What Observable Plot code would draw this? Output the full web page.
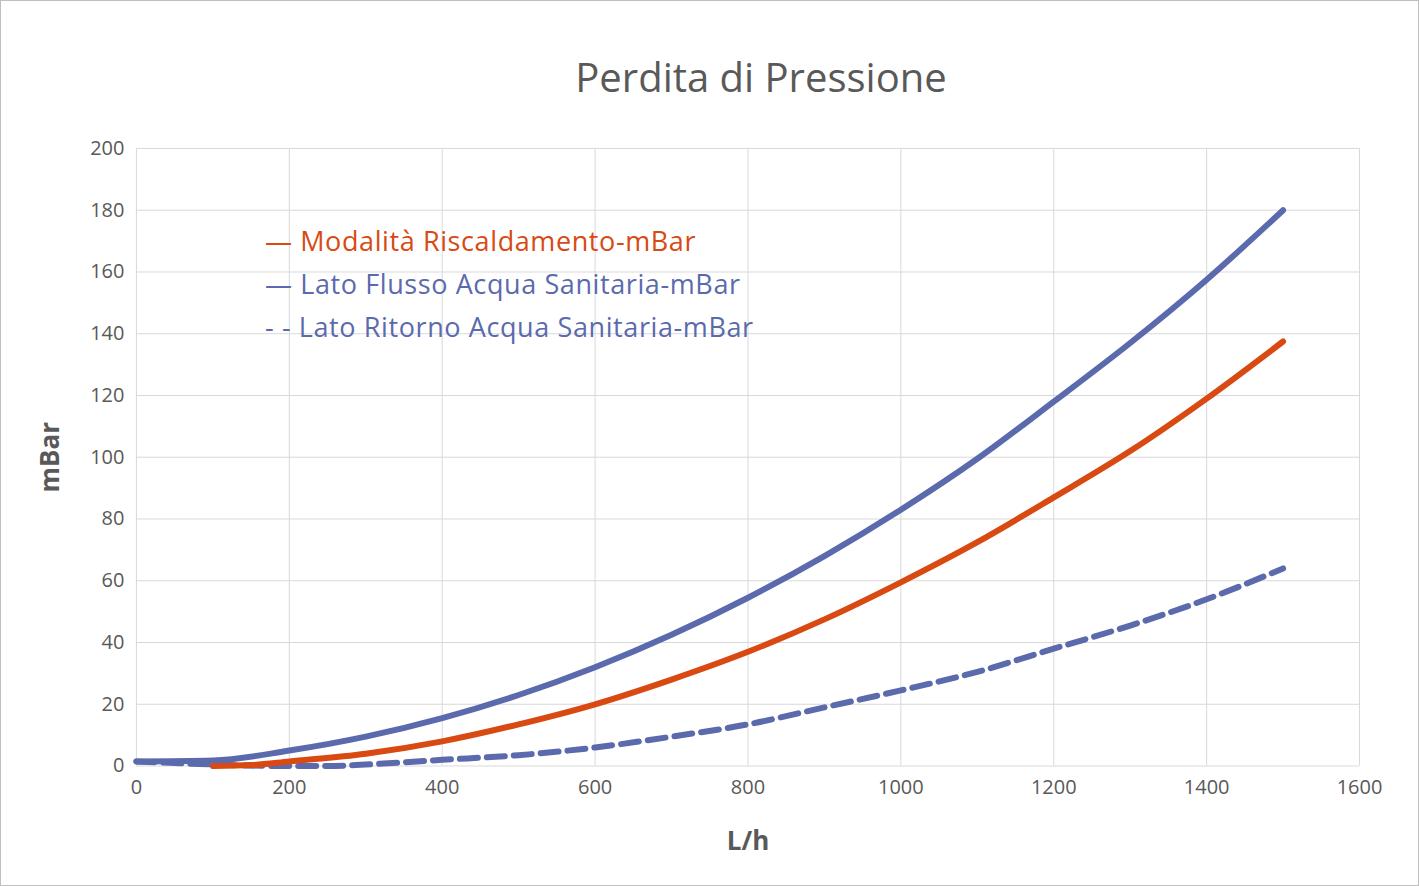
<!DOCTYPE html>
<html><head><meta charset="utf-8">
<script src="https://cdn.jsdelivr.net/npm/d3@7"></script>
<script src="https://cdn.jsdelivr.net/npm/@observablehq/plot@0.6"></script>
<style>
body{margin:0;background:#fff;font-family:"Open Sans",Calibri,sans-serif}
#wrap{position:relative;width:1417px;height:884px;border:1px solid #bfbfbf;overflow:hidden}
#title{position:absolute;top:48px;left:0;width:1520px;text-align:center;font-size:40px;color:#595959}
#chart{position:absolute;top:109px;left:-1px}
#legend{position:absolute;left:264px;top:218px;font-size:27px;line-height:43px;letter-spacing:0.6px}
</style></head><body>
<div id="wrap">
<div id="title">Perdita di Pressione</div>
<div id="chart"></div>
<div id="legend">
<div style="color:#d84a12">— Modalità Riscaldamento-mBar</div>
<div style="color:#5b6aad">— Lato Flusso Acqua Sanitaria-mBar</div>
<div style="color:#5b6aad">- - Lato Ritorno Acqua Sanitaria-mBar</div>
</div>
</div>
<script>
const xFlow = [0,100,200,300,400,500,600,700,800,900,1000,1100,1200,1300,1400,1500];
const flusso = [1.5,1.8,5,9.5,15.5,23,32,42.5,54.5,68,83,99.5,118,137,157.5,180];
const xRisc = [100,150,200,300,400,500,600,700,800,900,1000,1100,1200,1300,1400,1500];
const risc = [0,0.3,1.5,4,8,13.5,20,28,37,47.5,59.5,72.5,87,102,119,137.5];
const xRit = [0,100,200,250,300,400,500,600,700,800,900,1000,1100,1200,1300,1400,1500];
const ritorno = [1.5,0.5,0,0,0.5,2,3.5,6,9.5,13.5,19,24.5,30.5,38,45.5,54,64];
const xTicks = [0,200,400,600,800,1000,1200,1400,1600];
const yTicks = [0,20,40,60,80,100,120,140,160,180,200];

const fl = xFlow.map((x,i)=>({x,y:flusso[i]}));
const rs = xRisc.map((x,i)=>({x,y:risc[i]}));
const rt = xRit.map((x,i)=>({x,y:ritorno[i]}));

const p = Plot.plot({
  width:1419, height:777,
  marginLeft:136, marginRight:59, marginTop:38, marginBottom:121,
  style:{fontSize:"20px", color:"#595959", fontFamily:"Open Sans, sans-serif"},
  x:{domain:[0,1600], label:null},
  y:{domain:[0,200], label:null},
  marks:[
    Plot.gridX(xTicks,{stroke:"#d9d9d9", strokeOpacity:1}),
    Plot.gridY(yTicks,{stroke:"#d9d9d9", strokeOpacity:1}),
    Plot.axisX({ticks:xTicks, tickSize:0, tickPadding:14, label:null, tickFormat:d=>String(d)}),
    Plot.axisY({ticks:yTicks, tickSize:0, tickPadding:12, label:null, tickFormat:d=>String(d)}),
    Plot.line(rt,{x:"x",y:"y",stroke:"#5b6aad",strokeWidth:6,strokeDasharray:"18,9",curve:"monotone-x",strokeLinecap:"round"}),
    Plot.line(rs,{x:"x",y:"y",stroke:"#d84a12",strokeWidth:6,curve:"monotone-x",strokeLinecap:"round"}),
    Plot.line(fl,{x:"x",y:"y",stroke:"#5b6aad",strokeWidth:6,curve:"monotone-x",strokeLinecap:"round"}),
    Plot.text(["L/h"],{frameAnchor:"bottom",dy:84,fontSize:26,fontWeight:"bold",fill:"#595959"}),
    Plot.text(["mBar"],{frameAnchor:"left",textAnchor:"middle",dx:-86,rotate:-90,fontSize:26,fontWeight:"bold",fill:"#595959"})
  ]
});
document.getElementById("chart").appendChild(p);
</script>
</body></html>
